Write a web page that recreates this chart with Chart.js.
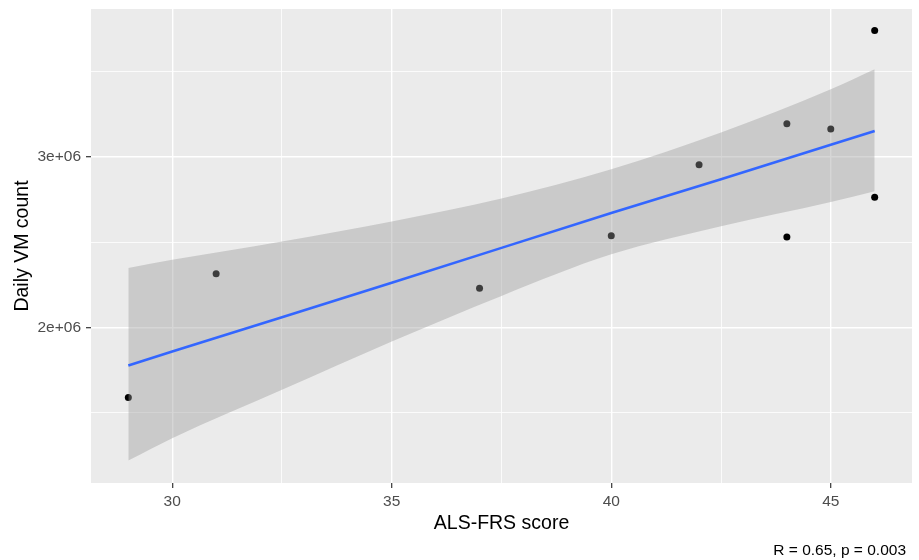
<!doctype html>
<html lang="en">
<head>
<meta charset="utf-8">
<title>Daily VM count vs ALS-FRS score</title>
<style>
  html,body{margin:0;padding:0;background:#fff}
  .wrap{width:919px;height:560px;position:relative}
</style>
</head>
<body>
<div class="wrap"><canvas id="chart" width="919" height="560"></canvas></div>
<script src="https://cdn.jsdelivr.net/npm/chart.js@4.4.1/dist/chart.umd.min.js"></script>
<script>
// observed points
const alsfrs  = [29, 31, 37, 40, 42, 44, 44, 45, 46, 46];
const vmCount = [1590000, 2315000, 2230000, 2537000, 2953000, 3192000, 2530000, 3162000, 3738000, 2762000];

// linear fit + 95% band
const fitX      = [29, 30, 32.5, 35, 37.5, 40, 42.5, 45, 46];
const fitY      = [1778000, 1859000, 2060000, 2262000, 2466000, 2670000, 2868000, 3070000, 3150000];
const bandUpper = [2348000, 2396000, 2504000, 2621000, 2755000, 2926000, 3141000, 3394000, 3511000];
const bandLower = [1221000, 1352000, 1635000, 1918000, 2185000, 2428000, 2593000, 2735000, 2798000];

const xTicks = [30, 32.5, 35, 37.5, 40, 42.5, 45];
const xMajor = [30, 35, 40, 45];
const yTicks = [1500000, 2000000, 2500000, 3000000, 3500000];
const yMajor = [2000000, 3000000];
const yLabels = {2000000: '2e+06', 3000000: '3e+06'};

const caption = 'R = 0.65, p = 0.003';
const FONT = '"Liberation Sans", Arial, sans-serif';

const xy = (xs, ys) => xs.map((x, i) => ({x, y: ys[i]}));

const panelBg = {
  id: 'panelBg',
  beforeDraw(chart){
    const {ctx, chartArea:a} = chart;
    ctx.save();
    ctx.fillStyle = '#EBEBEB';
    ctx.fillRect(a.left, a.top, a.right - a.left, a.bottom - a.top);
    ctx.restore();
  },
  afterDraw(chart){
    const ctx = chart.ctx;
    ctx.save();
    ctx.font = '15.5px ' + FONT;
    ctx.fillStyle = '#000';
    ctx.textAlign = 'right';
    ctx.textBaseline = 'alphabetic';
    ctx.fillText(caption, 906, 555);
    ctx.restore();
  }
};

const isMajor = (list, v) => list.some(m => Math.abs(m - v) < 1e-6);

new Chart(document.getElementById('chart'), {
  type: 'scatter',
  data: {
    datasets: [
      { label: 'points', data: xy(alsfrs, vmCount), order: 3,
        pointRadius: 3.5, pointBackgroundColor: '#000', pointBorderWidth: 0 },
      { label: 'upper', data: xy(fitX, bandUpper), order: 2, showLine: true, cubicInterpolationMode: 'monotone',
        borderWidth: 0, pointRadius: 0, fill: '+1', backgroundColor: 'rgba(153,153,153,0.4)' },
      { label: 'lower', data: xy(fitX, bandLower), order: 2, showLine: true, cubicInterpolationMode: 'monotone',
        borderWidth: 0, pointRadius: 0, fill: false },
      { label: 'fit', data: xy(fitX, fitY), order: 1, showLine: true,
        borderColor: '#3366FF', borderWidth: 2.6, pointRadius: 0, fill: false }
    ]
  },
  options: {
    responsive: false,
    animation: false,
    events: [],
    layout: { padding: { left: 0, right: 7, top: 9, bottom: 0 } },
    plugins: { legend: { display: false }, tooltip: { enabled: false } },
    scales: {
      x: {
        type: 'linear', min: 28.15, max: 46.85,
        afterBuildTicks: s => { s.ticks = xTicks.map(v => ({value: v})); },
        afterFit: s => { s.height = 77; s.paddingLeft = 0; s.paddingRight = 0; },
        border: { display: false },
        grid: {
          color: '#FFFFFF',
          lineWidth: c => isMajor(xMajor, c.tick.value) ? 1.4 : 0.8,
          tickColor: c => isMajor(xMajor, c.tick.value) ? '#333333' : 'rgba(0,0,0,0)',
          tickLength: 5, tickWidth: 1.2
        },
        ticks: {
          padding: 4, color: '#4D4D4D', font: { family: FONT, size: 15.5 },
          maxRotation: 0, autoSkip: false,
          callback: v => isMajor(xMajor, v) ? String(v) : ''
        },
        title: { display: true, text: 'ALS-FRS score', color: '#000',
          font: { family: FONT, size: 19.5 }, padding: { top: 0, bottom: 25 } }
      },
      y: {
        type: 'linear', min: 1090000, max: 3864000,
        afterBuildTicks: s => { s.ticks = yTicks.map(v => ({value: v})); },
        afterFit: s => { s.width = 91; s.paddingTop = 0; s.paddingBottom = 0; },
        border: { display: false },
        grid: {
          color: '#FFFFFF',
          lineWidth: c => isMajor(yMajor, c.tick.value) ? 1.4 : 0.8,
          tickColor: c => isMajor(yMajor, c.tick.value) ? '#333333' : 'rgba(0,0,0,0)',
          tickLength: 5, tickWidth: 1.2
        },
        ticks: {
          padding: 5, color: '#4D4D4D', font: { family: FONT, size: 15.5 },
          autoSkip: false,
          callback: v => yLabels[v] || ''
        },
        title: { display: true, text: 'Daily VM count', color: '#000',
          font: { family: FONT, size: 19.5 }, padding: { top: 11, bottom: 0 } }
      }
    }
  },
  plugins: [panelBg]
});
</script>
</body>
</html>
